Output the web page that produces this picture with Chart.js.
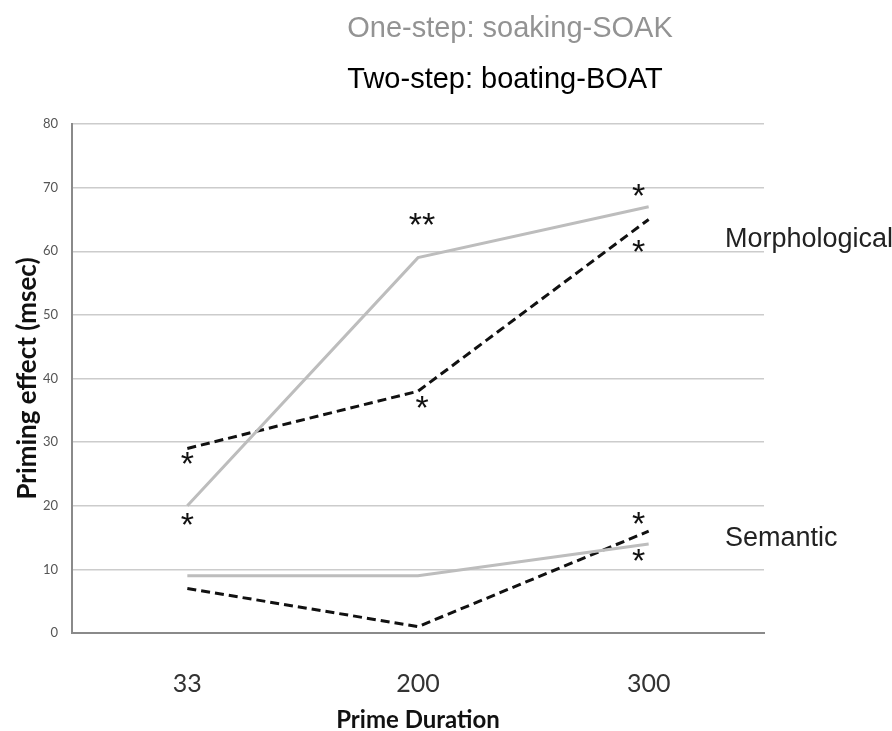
<!DOCTYPE html>
<html lang="en">
<head>
  <meta charset="UTF-8">
  <title>Priming effect</title>
  <script src="https://cdn.jsdelivr.net/npm/chart.js"></script>
  <style>
    body { margin: 0; background: #fff; }
    #wrap { width: 892px; height: 731px; }
  </style>
</head>
<body>
  <div id="wrap"><canvas id="chart"></canvas></div>
  <script>
    // data
    const durations = ['33', '200', '300'];
    const morphOneStep = [20, 59, 67];
    const morphTwoStep = [29, 38, 65];
    const semOneStep = [9, 9, 14];
    const semTwoStep = [7, 1, 16];
    const yTicks = [0, 10, 20, 30, 40, 50, 60, 70, 80];

    // significance marks: dataset index, point index, text, placement
    const stars = [
      { ds: 1, i: 0, text: '*', dx: 0, dy: 14 },
      { ds: 0, i: 0, text: '*', dx: 0, dy: 18 },
      { ds: 0, i: 1, text: '**', dx: 4, dy: -34 },
      { ds: 1, i: 1, text: '*', dx: 4, dy: 15 },
      { ds: 0, i: 2, text: '*', dx: -10, dy: -12 },
      { ds: 1, i: 2, text: '*', dx: -10, dy: 31 },
      { ds: 3, i: 2, text: '*', dx: -10, dy: -9 },
      { ds: 2, i: 2, text: '*', dx: -10, dy: 16 }
    ];

    const grey = '#bdbdbd';
    const dashed = { borderColor: '#111', borderDash: [9, 5], borderWidth: 3 };
    const solid = { borderColor: grey, borderWidth: 3 };

    // header text, group labels and asterisks
    const extras = {
      id: 'extras',
      afterDraw(chart) {
        const ctx = chart.ctx;
        ctx.save();
        ctx.textAlign = 'center';
        ctx.textBaseline = 'middle';
        ctx.font = '29px "Liberation Sans", Arial, sans-serif';
        ctx.fillStyle = '#939393';
        ctx.fillText('One-step: soaking-SOAK', 510, 29);
        ctx.fillStyle = '#000';
        ctx.fillText('Two-step: boating-BOAT', 505, 80);

        ctx.textAlign = 'left';
        ctx.fillStyle = '#222';
        ctx.font = '27px "Liberation Sans", Arial, sans-serif';
        ctx.fillText('Morphological', 725, 240);
        ctx.fillText('Semantic', 725, 539);

        ctx.textAlign = 'center';
        ctx.fillStyle = '#111';
        ctx.font = '34px "Liberation Sans", Arial, sans-serif';
        stars.forEach(s => {
          const pt = chart.getDatasetMeta(s.ds).data[s.i];
          ctx.fillText(s.text, pt.x + s.dx, pt.y + s.dy + 3);
        });
        ctx.restore();
      }
    };

    new Chart(document.getElementById('chart'), {
      type: 'line',
      data: {
        labels: durations,
        datasets: [
          { label: 'Morphological one-step', data: morphOneStep, ...solid },
          { label: 'Morphological two-step', data: morphTwoStep, ...dashed },
          { label: 'Semantic one-step', data: semOneStep, ...solid },
          { label: 'Semantic two-step', data: semTwoStep, ...dashed }
        ]
      },
      options: {
        responsive: true,
        maintainAspectRatio: false,
        animation: false,
        layout: { padding: { top: 124, right: 128, left: 0, bottom: 0 } },
        elements: { point: { radius: 0 }, line: { tension: 0 } },
        plugins: { legend: { display: false }, tooltip: { enabled: false } },
        scales: {
          x: {
            offset: true,
            grid: { display: false },
            border: { display: true, color: '#8a8a8a', width: 2 },
            ticks: { color: '#333', padding: 28, font: { family: 'Lato', size: 25 } },
            title: {
              display: true, text: 'Prime Duration', color: '#111',
              font: { family: 'Lato', size: 24, weight: 'bold' }, padding: { top: 0, bottom: -4 }
            },
            afterFit(scale) { scale.height = 98; }
          },
          y: {
            min: 0, max: 80,
            afterBuildTicks(scale) { scale.ticks = yTicks.map(v => ({ value: v })); },
            grid: { color: '#cccccc', lineWidth: 1.5, drawTicks: false },
            border: { display: true, color: '#8a8a8a', width: 2 },
            ticks: { color: '#555', padding: 14, font: { family: 'Lato', size: 13 } },
            title: {
              display: true, text: 'Priming effect (msec)', color: '#111',
              font: { family: 'Lato', size: 26, weight: 'bold' }, padding: { top: 12, bottom: 4 }
            },
            afterFit(scale) { scale.width = 72; }
          }
        }
      },
      plugins: [extras]
    });
  </script>
</body>
</html>
